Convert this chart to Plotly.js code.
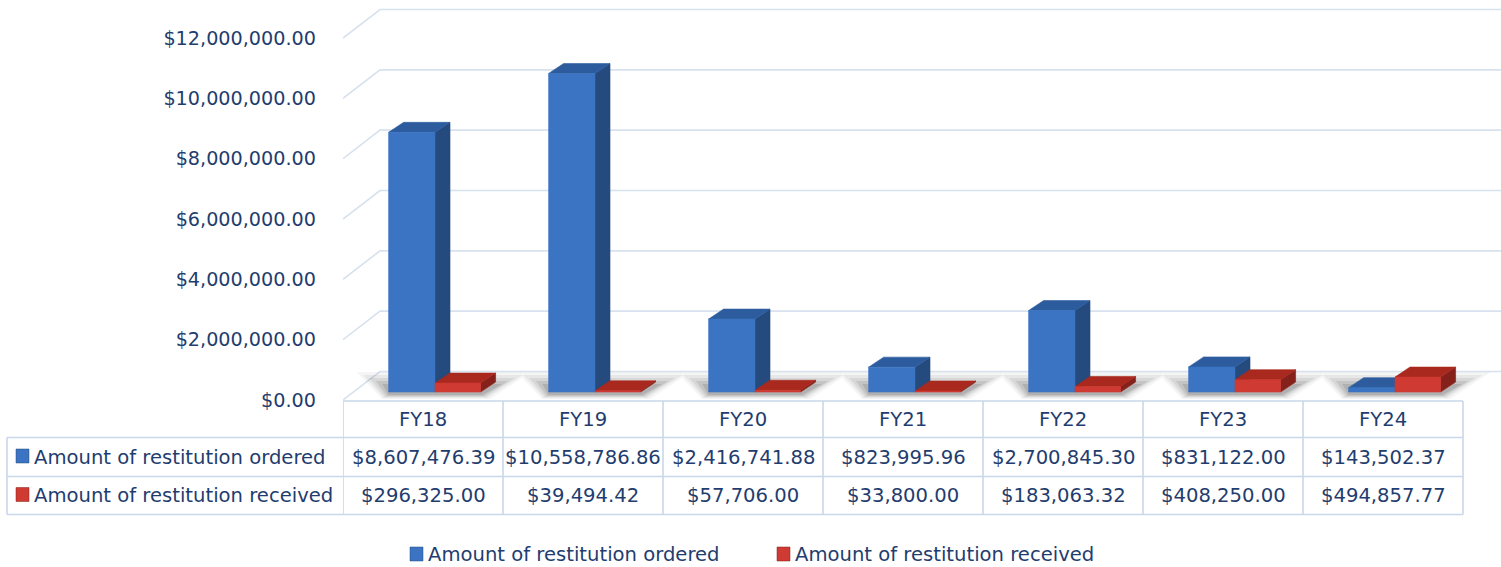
<!DOCTYPE html>
<html>
<head>
<meta charset="utf-8">
<script src="https://cdn.plot.ly/plotly-3.0.1.min.js"></script>
<style>
  html, body { margin: 0; padding: 0; background: #ffffff; }
  #chart { width: 1501px; height: 567px; }
</style>
</head>
<body>
<div id="chart"></div>
<script>
// ---------------- data ----------------
const categories = ["FY18", "FY19", "FY20", "FY21", "FY22", "FY23", "FY24"];
const seriesNames = ["Amount of restitution ordered", "Amount of restitution received"];
const ordered  = [8607476.39, 10558786.86, 2416741.88, 823995.96, 2700845.30, 831122.00, 143502.37];
const received = [296325.00, 39494.42, 57706.00, 33800.00, 183063.32, 408250.00, 494857.77];
const yTicks = [0, 2000000, 4000000, 6000000, 8000000, 10000000, 12000000];

// ---------------- geometry (pixels -> data) ----------------
const W = 1501, H = 567;
const ML = 343, MR = 0, MT = 0, MB = 167;
const PW = W - ML - MR, PH = H - MT - MB;   // plot area size
const CELL = 160;                            // px per category
const XMAX = PW / CELL;
const K = 12e6 / 362;                        // dollars per px vertically
const YMAX = PH * K;

const WALL_DX = 37 / CELL, WALL_DY = 28.5 * K;   // back wall depth
const BASE = 8 * K;                               // bar base offset
const BAR_DX = 15 / CELL, BAR_DY = 10 * K;        // bar depth
const BLUE_A = 0.285, MID = 0.575, RED_B = 0.86;

const px = x => (x - ML) / PW;
const py = y => (PH + MT - y) / PH;

const TXT = "#1f3d6e";
const FONT = "DejaVu Sans, sans-serif";
const FS = 19.6;
const GRID = "#d8e1ee";
const BORDER = "#c9d7ea";

const COL = {
  blue: { front: "#3a74c2", top: "#2d5c9e", side: "#244a7e" },
  red:  { front: "#cf3a32", top: "#a9291f", side: "#86201a" }
};

// ---------------- traces ----------------
const traces = [];

// back wall gridlines (with left wall diagonal)
const gx = [], gy = [];
yTicks.forEach(v => {
  gx.push(0, WALL_DX, XMAX, null);
  gy.push(v, v + WALL_DY, v + WALL_DY, null);
});
traces.push({ type: "scatter", mode: "lines", x: gx, y: gy,
  line: { color: GRID, width: 1.6 }, hoverinfo: "skip", showlegend: false });

// soft floor shadows (layered translucent parallelograms)
const shadowLayers = [
  { l0: 0.04, l1: 0.20, r0: 0.06, r1: 0.22, yb: 7, yt: 20, a: 0.05 },
  { l0: 0.03, l1: 0.16, r0: 0.04, r1: 0.17, yb: 6, yt: 17, a: 0.065 },
  { l0: 0.02, l1: 0.12, r0: 0.03, r1: 0.12, yb: 5, yt: 14, a: 0.085 },
  { l0: 0.01, l1: 0.08, r0: 0.02, r1: 0.08, yb: 4, yt: 11, a: 0.11 },
  { l0: 0.00, l1: 0.04, r0: 0.01, r1: 0.04, yb: 3, yt: 8,  a: 0.13 }
];
shadowLayers.forEach(s => {
  const sx = [], sy = [];
  categories.forEach((c, i) => {
    const a = i + BLUE_A, b = i + RED_B;
    const y0 = BASE - s.yb * K, y1 = BASE + s.yt * K;
    sx.push(a - s.l0, b + s.r0, b + BAR_DX + s.r1, a - s.l1, a - s.l0, null);
    sy.push(y0, y0, y1, y1, y0, null);
  });
  traces.push({ type: "scatter", mode: "lines", x: sx, y: sy, fill: "toself",
    fillcolor: "rgba(50,50,50," + s.a + ")", line: { width: 0, color: "rgba(0,0,0,0)" },
    hoverinfo: "skip", showlegend: false });
});

function barFaces(values, a0, b0, colors) {
  const side = { x: [], y: [] }, top = { x: [], y: [] }, front = { x: [], y: [] };
  values.forEach((v, i) => {
    const a = i + a0, b = i + b0, y0 = BASE, y1 = BASE + v;
    side.x.push(b, b + BAR_DX, b + BAR_DX, b, b, null);
    side.y.push(y0, y0 + BAR_DY, y1 + BAR_DY, y1, y0, null);
    top.x.push(a, b, b + BAR_DX, a + BAR_DX, a, null);
    top.y.push(y1, y1, y1 + BAR_DY, y1 + BAR_DY, y1, null);
    front.x.push(a, b, b, a, a, null);
    front.y.push(y0, y0, y1, y1, y0, null);
  });
  const mk = (d, c) => ({ type: "scatter", mode: "lines", x: d.x, y: d.y, fill: "toself",
    fillcolor: c, line: { width: 0.6, color: c }, hoverinfo: "skip", showlegend: false });
  return [mk(side, colors.side), mk(top, colors.top), mk(front, colors.front)];
}
traces.push(...barFaces(ordered, BLUE_A, MID, COL.blue));
traces.push(...barFaces(received, MID, RED_B, COL.red));

// ---------------- table + legend (layout) ----------------
const fmt = v => "$" + v.toLocaleString("en-US", { minimumFractionDigits: 2, maximumFractionDigits: 2 });

const shapes = [];
const annotations = [];
const line = { color: BORDER, width: 1.6 };

// horizontal table lines
shapes.push({ type: "line", xref: "x", yref: "paper", x0: 0, x1: categories.length, y0: py(401), y1: py(401), line });
[437.5, 476.5, 514.5].forEach(y => shapes.push({ type: "line", xref: "paper", yref: "paper",
  x0: px(7), x1: px(ML + categories.length * CELL), y0: py(y), y1: py(y), line }));
// vertical table lines
shapes.push({ type: "line", xref: "paper", yref: "paper", x0: px(7), x1: px(7), y0: py(437.5), y1: py(514.5), line });
for (let i = 0; i <= categories.length; i++) {
  shapes.push({ type: "line", xref: "x", yref: "paper", x0: i, x1: i, y0: py(401), y1: py(514.5), line });
}

// header + values
const rowY = [py(419.5), py(457), py(495.5)];
const tf = { family: FONT, size: FS, color: TXT };
categories.forEach((c, i) => {
  annotations.push({ xref: "x", yref: "paper", x: i + 0.5, y: rowY[0], text: c, showarrow: false,
    xanchor: "center", yanchor: "middle", font: tf });
  annotations.push({ xref: "x", yref: "paper", x: i + 0.5, y: rowY[1], text: fmt(ordered[i]), showarrow: false,
    xanchor: "center", yanchor: "middle", font: tf });
  annotations.push({ xref: "x", yref: "paper", x: i + 0.5, y: rowY[2], text: fmt(received[i]), showarrow: false,
    xanchor: "center", yanchor: "middle", font: tf });
});

// row labels with keys
const keyColors = [COL.blue.front, COL.red.front];
const keyEdge = [COL.blue.side, COL.red.side];
[[449, 463], [487.5, 501.5]].forEach((yy, r) => {
  shapes.push({ type: "rect", xref: "paper", yref: "paper", x0: px(16), x1: px(29), y0: py(yy[1]), y1: py(yy[0]),
    fillcolor: keyColors[r], line: { width: 0.5, color: keyEdge[r] } });
  annotations.push({ xref: "paper", yref: "paper", x: px(32), y: rowY[r + 1], text: seriesNames[r], showarrow: false,
    xanchor: "left", yanchor: "middle", font: tf });
});

// bottom legend
[[410, 423, 426], [777, 790, 793]].forEach((p, r) => {
  shapes.push({ type: "rect", xref: "paper", yref: "paper", x0: px(p[0]), x1: px(p[1]), y0: py(561), y1: py(547),
    fillcolor: keyColors[r], line: { width: 0.5, color: keyEdge[r] } });
  annotations.push({ xref: "paper", yref: "paper", x: px(p[2]), y: py(554), text: seriesNames[r], showarrow: false,
    xanchor: "left", yanchor: "middle", font: tf });
});

const layout = {
  width: W, height: H,
  margin: { l: ML, r: MR, t: MT, b: MB, pad: 0 },
  paper_bgcolor: "#ffffff", plot_bgcolor: "rgba(0,0,0,0)",
  showlegend: false,
  xaxis: { range: [0, XMAX], showgrid: false, zeroline: false, showline: false,
           showticklabels: false, ticks: "", fixedrange: true },
  yaxis: { range: [0, YMAX], showgrid: false, zeroline: false, showline: false,
           tickvals: yTicks, tickformat: "$,.2f", ticks: "", ticklabelstandoff: 26,
           tickfont: { family: FONT, size: 19.2, color: TXT }, fixedrange: true },
  shapes, annotations,
  font: { family: FONT, color: TXT }
};

Plotly.newPlot("chart", traces, layout, { displayModeBar: false, staticPlot: true });
</script>
</body>
</html>
